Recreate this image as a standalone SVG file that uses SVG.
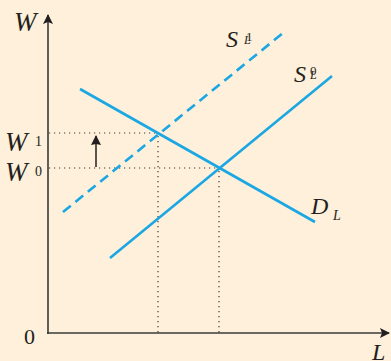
<svg xmlns="http://www.w3.org/2000/svg" width="391" height="361" viewBox="0 0 391 361">
<defs>
<style>
.lbl{font-family:"Liberation Serif","DejaVu Serif",serif;font-style:italic;fill:#231f20}
.num{font-family:"Liberation Serif","DejaVu Serif",serif;fill:#231f20}
.axis{stroke:#3a3a3a;stroke-width:1.6;fill:none}
.dot{stroke:#3a3a3a;stroke-width:1.2;stroke-dasharray:1.2 3.8;fill:none}
.curve{stroke:#1aa7e4;stroke-width:2.6;fill:none}
</style>
<marker id="ah" viewBox="0 0 10 10" refX="9" refY="5" markerWidth="10" markerHeight="10" markerUnits="userSpaceOnUse" orient="auto"><path d="M0,0 L10,5 L0,10 L2,5 Z" fill="#231f20"/></marker>
<marker id="ah2" viewBox="0 0 10 10" refX="9" refY="5" markerWidth="16" markerHeight="10" markerUnits="userSpaceOnUse" orient="auto"><path d="M0,0 L10,5 L0,10 L1,5 Z" fill="#231f20"/></marker>
</defs>
<rect width="391" height="361" fill="#fef0da"/>
<g id="axes">
<line class="axis" x1="48" y1="334" x2="48" y2="15" marker-end="url(#ah)"/>
<line class="axis" x1="47" y1="333" x2="389" y2="333" marker-end="url(#ah)"/>
</g>
<g id="guides">
<line class="dot" x1="49" y1="133" x2="158" y2="133"/>
<line class="dot" x1="49" y1="168" x2="219" y2="168"/>
<line class="dot" x1="158" y1="136" x2="158" y2="333"/>
<line class="dot" x1="219" y1="171" x2="219" y2="333"/>
</g>
<g id="connectors">
<line class="curve" x1="80" y1="89" x2="315" y2="222"/>
<line class="curve" x1="110" y1="258" x2="332" y2="76"/>
<line class="curve" x1="63" y1="212" x2="283" y2="33" stroke-dasharray="10 6"/>
<line x1="96" y1="167" x2="96" y2="136" stroke="#231f20" stroke-width="1.5" marker-end="url(#ah2)"/>
</g>
<g id="labels">
<text class="lbl" x="14" y="31" style="font-size:27px">W</text>
<text class="lbl" x="5" y="151" style="font-size:27px">W</text><text class="num" x="35" y="146" style="font-size:14px">1</text>
<text class="lbl" x="5" y="181" style="font-size:27px">W</text><text class="num" x="35" y="176" style="font-size:14px">0</text>
<text class="num" x="24" y="344" style="font-size:22px">0</text>
<text class="lbl" x="372" y="360" style="font-size:24px">L</text>
<text class="lbl" x="226" y="47" style="font-size:24px">S</text><text class="num" x="246" y="41" style="font-size:13px">1</text><text class="lbl" x="244" y="44" style="font-size:12px">L</text>
<text class="lbl" x="294" y="82" style="font-size:24px">S</text><text class="num" x="310" y="75" style="font-size:13px">0</text><text class="lbl" x="310" y="79" style="font-size:12px">L</text>
<text class="lbl" x="311" y="214" style="font-size:24px">D</text><text class="lbl" x="333" y="220" style="font-size:14px">L</text>
</g>
</svg>
